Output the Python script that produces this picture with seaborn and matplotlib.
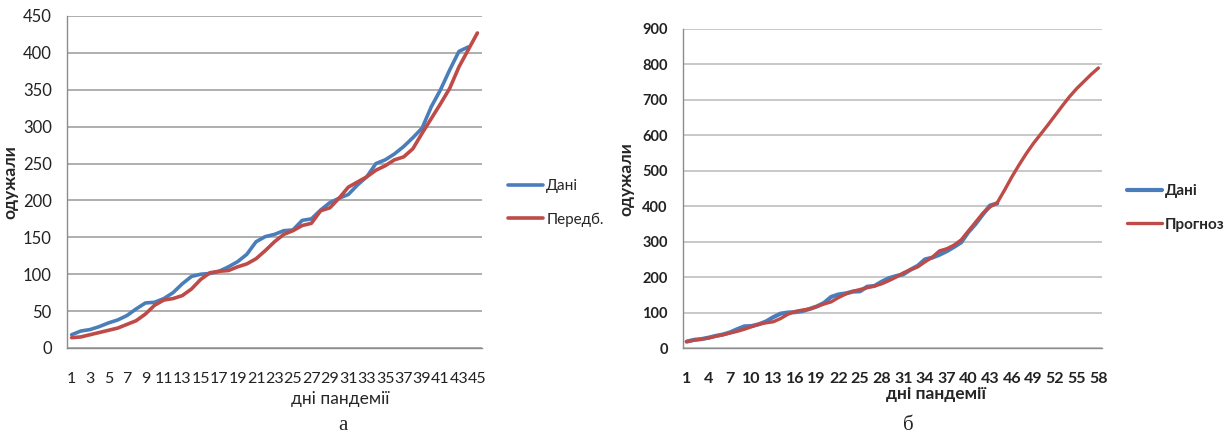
import numpy as np
import pandas as pd
import matplotlib
matplotlib.use("Agg")
import matplotlib.pyplot as plt
import seaborn as sns

# ---- дані ----
dani = [18, 23, 25, 29, 34, 38, 44, 53, 61, 62,
        67, 75, 87, 97, 100, 101, 104, 110, 117, 127,
        144, 151, 154, 159, 160, 173, 175, 187, 197, 203,
        208, 221, 232, 250, 255, 263, 273, 285, 298, 327,
        350, 377, 402, 408]

peredb = [14, 15, 18, 21, 24, 27, 32, 37, 46, 58, 65, 67, 71, 80, 93, 102, 104,
          105, 110, 114, 121, 132, 144, 154, 159, 166, 169, 186, 190, 203, 218, 225,
          232, 241, 247, 255, 259, 270, 291, 311, 331, 352, 381, 404, 427]

prognoz = [18, 22, 25, 28, 33, 37, 42, 47, 53, 60, 67, 71, 74, 83, 95, 103, 107,
           110, 117, 124, 130, 142, 152, 160, 165, 170, 175, 181, 190, 200, 212, 221,
           229, 243, 256, 274, 280, 290, 305, 330, 355, 380, 398, 410, 445, 482, 516,
           548, 577, 603, 629, 656, 683, 709, 732, 752, 772, 790]

BLUE = "#4a7ebb"
RED = "#be4b48"

sns.set_style("white")
plt.rcParams["font.family"] = ["Lato", "DejaVu Sans"]

fig = plt.figure(figsize=(12.27, 4.34), dpi=100)
W, H = 1227, 434


def make_ax(l, r, t, b):
    return fig.add_axes([l / W, 1 - b / H, (r - l) / W, (b - t) / H])


def style_ax(ax, n, ymax, ystep, xstep, grid_col, bold, ysize, xsize):
    ax.set_xlim(0.5, n + 0.5)
    ax.set_ylim(0, ymax)
    ax.set_yticks(np.arange(0, ymax + 1, ystep))
    ax.set_xticks(np.arange(1, n + 1, xstep))
    ax.set_xticks(np.arange(0.5, n + 1, 1), minor=True)
    ax.yaxis.grid(True, color=grid_col, lw=1.3)
    ax.set_axisbelow(True)
    for s in ["top", "right"]:
        ax.spines[s].set_visible(False)
    for s in ["left", "bottom"]:
        ax.spines[s].set_color("#8c8c8c")
        ax.spines[s].set_linewidth(1.0)
    w = "bold" if bold else "normal"
    ax.tick_params(axis="x", which="major", length=0, pad=17, labelsize=xsize,
                   labelcolor="#222222")
    ax.tick_params(axis="x", which="minor", length=5, color="#8c8c8c", width=1)
    ax.tick_params(axis="y", length=4.5, width=1, color="#8c8c8c", pad=6.5,
                   labelsize=ysize, labelcolor="#222222")
    for lab in ax.get_xticklabels() + ax.get_yticklabels():
        lab.set_fontweight(w)


def put_legend(ax, x, y, bold):
    ax.legend(loc="center left", bbox_to_anchor=(x / W, 1 - y / H),
              bbox_transform=fig.transFigure, frameon=False, borderpad=0,
              borderaxespad=0, handlelength=2.3, handletextpad=0.2,
              labelspacing=1.25,
              prop={"weight": "bold" if bold else "normal", "size": 11})


# ---------- а ----------
ax1 = make_ax(67, 482, 16, 348)
df1 = pd.DataFrame({"day": np.arange(1, len(peredb) + 1), "val": peredb})
df1b = pd.DataFrame({"day": np.arange(1, len(dani) + 1), "val": dani})
sns.lineplot(data=df1b, x="day", y="val", ax=ax1, color=BLUE, lw=2.6, label="Дані")
sns.lineplot(data=df1, x="day", y="val", ax=ax1, color=RED, lw=2.6, label="Передб.")
style_ax(ax1, 45, 450, 50, 2, "#a8a8a8", False, 12, 11.5)
ax1.set_xlabel("дні пандемії", fontsize=12.5)
ax1.xaxis.set_label_coords(0.658, -0.13)
ax1.set_ylabel("одужали", fontsize=12.5, fontweight="bold")
ax1.yaxis.set_label_coords(-0.118, 0.5)
put_legend(ax1, 508, 203, False)
fig.text(343 / W, 1 - 425 / H, "а", ha="center", va="center", fontsize=15,
         family="Liberation Serif")

# ---------- б ----------
ax2 = make_ax(683, 1102, 29, 348)
df2 = pd.DataFrame({"day": np.arange(1, len(prognoz) + 1), "val": prognoz})
sns.lineplot(data=df1b, x="day", y="val", ax=ax2, color=BLUE, lw=3.0, label="Дані")
sns.lineplot(data=df2, x="day", y="val", ax=ax2, color=RED, lw=2.4, label="Прогноз")
style_ax(ax2, 58, 900, 100, 3, "#c4c4c4", True, 10.5, 11.5)
ax2.set_xlabel("дні пандемії", fontsize=12.5, fontweight="bold")
ax2.xaxis.set_label_coords(0.604, -0.12)
ax2.set_ylabel("одужали", fontsize=12.5, fontweight="bold")
ax2.yaxis.set_label_coords(-0.115, 0.53)
put_legend(ax2, 1127, 208, True)
fig.text(908 / W, 1 - 425 / H, "б", ha="center", va="center", fontsize=15,
         family="Liberation Serif")

fig.savefig("out.png", dpi=100)
